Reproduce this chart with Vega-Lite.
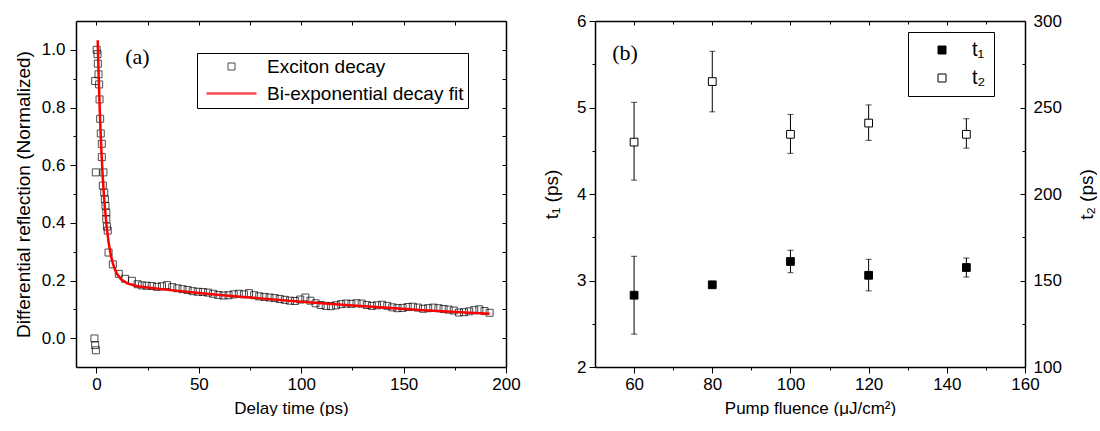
{
  "$schema": "https://vega.github.io/schema/vega-lite/v6.json",
  "padding": {"left": 14, "top": 12, "right": 0, "bottom": 0},
  "background": "white",
  "config": {
    "view": {"stroke": null},
    "font": "Liberation Sans",
    "axis": {
      "grid": false, "domainColor": "black", "domainWidth": 1.5, "tickColor": "black", "tickWidth": 1,
      "labelColor": "black", "titleColor": "black", "labelFont": "Liberation Sans", "titleFont": "Liberation Sans",
      "labelFontSize": 17, "titleFontSize": 17, "titleFontWeight": "normal", "labelFlush": false, "labelOverlap": false,
      "labelPadding": 3, "titlePadding": 8
    }
  },
  "resolve": {
    "scale": {"color": "independent", "fill": "independent", "shape": "independent", "strokeWidth": "independent"},
    "legend": {"color": "independent", "fill": "independent", "shape": "independent", "strokeWidth": "independent"}
  },
  "spacing": 21,
  "datasets": {
    "decay": [
      {"t": -1.0, "r": -0.001}, {"t": -0.65, "r": -0.024}, {"t": -0.3, "r": -0.042}, {"t": -0.3, "r": 0.575},
      {"t": 0.1, "r": 1.0}, {"t": 0.5, "r": 0.985}, {"t": 0.65, "r": 0.952}, {"t": 1.0, "r": 0.915}, {"t": -0.65, "r": 0.892},
      {"t": 1.3, "r": 0.88}, {"t": 1.5, "r": 0.828}, {"t": 1.8, "r": 0.761}, {"t": 2.1, "r": 0.71}, {"t": 2.6, "r": 0.674},
      {"t": 2.6, "r": 0.628}, {"t": 3.4, "r": 0.575}, {"t": 3.1, "r": 0.529}, {"t": 3.8, "r": 0.505}, {"t": 4.1, "r": 0.482},
      {"t": 4.4, "r": 0.459}, {"t": 4.8, "r": 0.436}, {"t": 4.8, "r": 0.413}, {"t": 5.1, "r": 0.387}, {"t": 5.5, "r": 0.373},
      {"t": 5.9, "r": 0.297}, {"t": 8.0, "r": 0.256}, {"t": 10.9, "r": 0.223}, {"t": 14.0, "r": 0.206}, {"t": 17.3, "r": 0.199},
      {"t": 20.1, "r": 0.187}, {"t": 22.2, "r": 0.183}, {"t": 24.5, "r": 0.182}, {"t": 27, "r": 0.181}, {"t": 29.5, "r": 0.178},
      {"t": 32, "r": 0.18}, {"t": 34.5, "r": 0.184}, {"t": 37, "r": 0.177}, {"t": 39.5, "r": 0.173}, {"t": 42, "r": 0.17},
      {"t": 44.5, "r": 0.167}, {"t": 47, "r": 0.163}, {"t": 49.5, "r": 0.161}, {"t": 52, "r": 0.16}, {"t": 54.5, "r": 0.158},
      {"t": 57, "r": 0.154}, {"t": 59.5, "r": 0.15}, {"t": 62, "r": 0.148}, {"t": 64.5, "r": 0.149}, {"t": 67, "r": 0.152},
      {"t": 69.5, "r": 0.154}, {"t": 72, "r": 0.152}, {"t": 74.5, "r": 0.156}, {"t": 77, "r": 0.149}, {"t": 79.5, "r": 0.145},
      {"t": 82, "r": 0.143}, {"t": 84.5, "r": 0.141}, {"t": 87, "r": 0.139}, {"t": 89.5, "r": 0.136}, {"t": 92, "r": 0.133},
      {"t": 94.5, "r": 0.13}, {"t": 97, "r": 0.129}, {"t": 99.5, "r": 0.134}, {"t": 102, "r": 0.141}, {"t": 104.5, "r": 0.13},
      {"t": 107, "r": 0.121}, {"t": 109.5, "r": 0.115}, {"t": 112, "r": 0.112}, {"t": 114.5, "r": 0.111}, {"t": 117, "r": 0.114},
      {"t": 119.5, "r": 0.118}, {"t": 122, "r": 0.12}, {"t": 124.5, "r": 0.119}, {"t": 127, "r": 0.121}, {"t": 129.5, "r": 0.12},
      {"t": 132, "r": 0.115}, {"t": 134.5, "r": 0.112}, {"t": 137, "r": 0.114}, {"t": 139.5, "r": 0.116}, {"t": 142, "r": 0.112},
      {"t": 144.5, "r": 0.107}, {"t": 147, "r": 0.104}, {"t": 149.5, "r": 0.105}, {"t": 152, "r": 0.108}, {"t": 154.5, "r": 0.109},
      {"t": 157, "r": 0.106}, {"t": 159.5, "r": 0.102}, {"t": 162, "r": 0.104}, {"t": 164.5, "r": 0.106}, {"t": 167, "r": 0.104},
      {"t": 169.5, "r": 0.101}, {"t": 172, "r": 0.099}, {"t": 174.5, "r": 0.096}, {"t": 177, "r": 0.089}, {"t": 179.5, "r": 0.09},
      {"t": 182, "r": 0.093}, {"t": 184.5, "r": 0.097}, {"t": 187, "r": 0.1}, {"t": 189.5, "r": 0.094}, {"t": 192, "r": 0.088}
    ],
    "fit": [
      {"t": 0.6, "r": 1.033}, {"t": 1, "r": 0.925}, {"t": 1.5, "r": 0.813}, {"t": 2, "r": 0.717}, {"t": 2.5, "r": 0.636},
      {"t": 3, "r": 0.567}, {"t": 3.5, "r": 0.51}, {"t": 4, "r": 0.461}, {"t": 5, "r": 0.384}, {"t": 6, "r": 0.328},
      {"t": 7, "r": 0.288}, {"t": 8, "r": 0.259}, {"t": 9, "r": 0.239}, {"t": 10, "r": 0.223}, {"t": 12, "r": 0.204},
      {"t": 15, "r": 0.19}, {"t": 20, "r": 0.18}, {"t": 30, "r": 0.171}, {"t": 40, "r": 0.164}, {"t": 50, "r": 0.157},
      {"t": 60, "r": 0.15}, {"t": 80, "r": 0.138}, {"t": 100, "r": 0.126}, {"t": 120, "r": 0.116}, {"t": 140, "r": 0.106},
      {"t": 160, "r": 0.097}, {"t": 180, "r": 0.089}, {"t": 192, "r": 0.085}
    ],
    "tau": [
      {"f": 60, "t1": 2.83, "t1lo": 2.38, "t1hi": 3.28, "t2": 230, "t2lo": 208, "t2hi": 253},
      {"f": 80, "t1": 2.95, "t1lo": 2.92, "t1hi": 2.99, "t2": 265, "t2lo": 247.5, "t2hi": 282.5},
      {"f": 100, "t1": 3.22, "t1lo": 3.09, "t1hi": 3.35, "t2": 234.5, "t2lo": 223.5, "t2hi": 246},
      {"f": 120, "t1": 3.06, "t1lo": 2.88, "t1hi": 3.245, "t2": 241, "t2lo": 231, "t2hi": 251.5},
      {"f": 145, "t1": 3.15, "t1lo": 3.04, "t1hi": 3.26, "t2": 234.5, "t2lo": 226.5, "t2hi": 243.5}
    ]
  },
  "hconcat": [
    {
      "width": 430,
      "height": 346,
      "resolve": {"axis": {"x": "independent", "y": "independent"}},
      "layer": [
        {
          "data": {"name": "decay"},
          "mark": {"type": "point", "opacity": 0},
          "encoding": {
            "x": {"field": "t", "type": "quantitative", "scale": {"domain": [-10, 200], "nice": false, "zero": false},
                  "axis": {"orient": "bottom", "values": [25, 75, 125, 175], "labels": false, "tickSize": 3, "domain": false, "title": null}},
            "y": {"field": "r", "type": "quantitative", "scale": {"domain": [-0.1, 1.1], "nice": false, "zero": false},
                  "axis": {"orient": "left", "values": [0.1, 0.3, 0.5, 0.7, 0.9], "labels": false, "tickSize": 3, "domain": false, "title": null}}
          }
        },
        {
          "data": {"name": "decay"},
          "mark": {"type": "point", "opacity": 0},
          "encoding": {
            "x": {"field": "t", "type": "quantitative",
                  "axis": {"orient": "top", "values": [25, 75, 125, 175], "labels": false, "tickSize": -4, "domain": false, "title": null}},
            "y": {"field": "r", "type": "quantitative",
                  "axis": {"orient": "right", "values": [0, 0.1, 0.2, 0.3, 0.4, 0.5, 0.6, 0.7, 0.8, 0.9, 1.0], "labels": false, "tickSize": -4, "title": null}}
          }
        },
        {
          "data": {"name": "decay"},
          "mark": {"type": "point", "filled": false, "size": 100},
          "encoding": {
            "x": {"field": "t", "type": "quantitative",
                  "axis": {"orient": "bottom", "values": [0, 50, 100, 150, 200], "tickSize": 6, "title": "Delay time (ps)"}},
            "y": {"field": "r", "type": "quantitative",
                  "axis": {"orient": "left", "values": [0, 0.2, 0.4, 0.6, 0.8, 1.0], "format": ".1f", "tickSize": 6, "labelPadding": 5, "titleFontSize": 19, "title": "Differential reflection (Normalized)"}},
            "color": {"datum": "Exciton decay", "type": "nominal",
                      "scale": {"domain": ["Exciton decay", "Bi-exponential decay fit"], "range": ["black", "#ff0000"]},
                      "legend": {"orient": "none", "legendX": 121, "legendY": 32, "title": null, "strokeColor": "black", "fillColor": "white", "padding": 4, "symbolOffset": 21, "labelOffset": 26, "labelFontSize": 19, "labelLimit": 400, "rowPadding": 7, "symbolSize": 100, "labelColor": "black"}},
            "shape": {"datum": "Exciton decay", "type": "nominal",
                      "scale": {"domain": ["Exciton decay", "Bi-exponential decay fit"], "range": ["M-0.7,-0.7H0.7V0.7H-0.7Z", "M-5,0H5"]},
                      "legend": {"orient": "none", "legendX": 121, "legendY": 32, "title": null, "strokeColor": "black", "fillColor": "white", "padding": 4, "symbolOffset": 21, "labelOffset": 26, "labelFontSize": 19, "labelLimit": 400, "rowPadding": 7, "symbolSize": 100, "labelColor": "black"}},
            "strokeWidth": {"datum": "Exciton decay", "type": "nominal",
                      "scale": {"type": "ordinal", "domain": ["Exciton decay", "Bi-exponential decay fit"], "range": [1, 2.5]},
                      "legend": {"orient": "none", "legendX": 121, "legendY": 32, "title": null, "strokeColor": "black", "fillColor": "white", "padding": 4, "symbolOffset": 21, "labelOffset": 26, "labelFontSize": 19, "labelLimit": 400, "rowPadding": 7, "symbolSize": 100, "labelColor": "black"}}
          }
        },
        {
          "data": {"name": "fit"},
          "mark": {"type": "line", "color": "#ff0000", "strokeWidth": 2.5},
          "encoding": {
            "x": {"field": "t", "type": "quantitative",
                  "axis": {"orient": "top", "values": [0, 50, 100, 150, 200], "labels": false, "tickSize": -4, "title": null}},
            "y": {"field": "r", "type": "quantitative", "axis": null}
          }
        },
        {
          "data": {"values": [{}]},
          "mark": {"type": "text", "text": "(a)", "font": "Liberation Serif", "fontSize": 22, "color": "black"},
          "encoding": {
            "x": {"datum": 20, "type": "quantitative", "axis": null},
            "y": {"datum": 0.975, "type": "quantitative", "axis": null}
          }
        }
      ]
    },
    {
      "width": 430,
      "height": 346,
      "data": {"name": "tau"},
      "resolve": {"scale": {"y": "independent"}, "axis": {"x": "independent", "y": "independent"}},
      "layer": [
        {
          "mark": {"type": "rule", "color": "black", "strokeWidth": 1},
          "encoding": {
            "x": {"field": "f", "type": "quantitative", "scale": {"domain": [50, 160], "nice": false, "zero": false},
                  "axis": {"orient": "top", "values": [60, 80, 100, 120, 140, 160], "labels": false, "tickSize": -4, "title": null}},
            "y": {"field": "t1lo", "type": "quantitative", "scale": {"domain": [2, 6], "nice": false, "zero": false},
                  "axis": {"orient": "left", "values": [2.5, 3.5, 4.5, 5.5], "labels": false, "tickSize": 3, "domain": false, "title": null}},
            "y2": {"field": "t1hi"}
          }
        },
        {
          "mark": {"type": "tick", "orient": "horizontal", "color": "black", "size": 6, "thickness": 1},
          "encoding": {
            "x": {"field": "f", "type": "quantitative",
                  "axis": {"orient": "bottom", "values": [70, 90, 110, 130, 150], "labels": false, "tickSize": 3, "domain": false, "title": null}},
            "y": {"field": "t1lo", "type": "quantitative", "scale": {"domain": [2, 6], "nice": false, "zero": false}, "axis": null}
          }
        },
        {
          "mark": {"type": "tick", "orient": "horizontal", "color": "black", "size": 6, "thickness": 1},
          "encoding": {
            "x": {"field": "f", "type": "quantitative",
                  "axis": {"orient": "top", "values": [70, 90, 110, 130, 150], "labels": false, "tickSize": -3, "domain": false, "title": null}},
            "y": {"field": "t1hi", "type": "quantitative", "scale": {"domain": [2, 6], "nice": false, "zero": false}, "axis": null}
          }
        },
        {
          "mark": {"type": "rule", "color": "black", "strokeWidth": 1},
          "encoding": {
            "x": {"field": "f", "type": "quantitative", "axis": null},
            "y": {"field": "t2lo", "type": "quantitative", "scale": {"domain": [100, 300], "nice": false, "zero": false},
                  "axis": {"orient": "right", "values": [125, 175, 225, 275], "labels": false, "tickSize": -3, "domain": false, "title": null}},
            "y2": {"field": "t2hi"}
          }
        },
        {
          "mark": {"type": "tick", "orient": "horizontal", "color": "black", "size": 6, "thickness": 1},
          "encoding": {
            "x": {"field": "f", "type": "quantitative", "axis": null},
            "y": {"field": "t2lo", "type": "quantitative", "scale": {"domain": [100, 300], "nice": false, "zero": false}, "axis": null}
          }
        },
        {
          "mark": {"type": "tick", "orient": "horizontal", "color": "black", "size": 6, "thickness": 1},
          "encoding": {
            "x": {"field": "f", "type": "quantitative", "axis": null},
            "y": {"field": "t2hi", "type": "quantitative", "scale": {"domain": [100, 300], "nice": false, "zero": false}, "axis": null}
          }
        },
        {
          "mark": {"type": "point", "shape": "square", "size": 60, "filled": true, "stroke": "black", "strokeWidth": 1, "opacity": 1},
          "encoding": {
            "x": {"field": "f", "type": "quantitative",
                  "axis": {"orient": "bottom", "values": [60, 80, 100, 120, 140, 160], "tickSize": 6, "title": "Pump fluence (μJ/cm²)"}},
            "y": {"field": "t1", "type": "quantitative", "scale": {"domain": [2, 6], "nice": false, "zero": false},
                  "axis": {"orient": "left", "values": [2, 3, 4, 5, 6], "tickSize": 6, "title": "t₁ (ps)", "titleFontSize": 19, "titlePadding": 15}},
            "fill": {"datum": "t₁", "type": "nominal", "scale": {"domain": ["t₁", "t₂"], "range": ["black", "white"]},
                     "legend": {"orient": "none", "legendX": 313, "legendY": 11, "title": null, "strokeColor": "black", "fillColor": "white", "padding": 8, "symbolOffset": 16, "labelOffset": 20, "labelFontSize": 20, "rowPadding": 8, "symbolSize": 64, "symbolType": "square", "symbolStrokeColor": "black", "symbolStrokeWidth": 1, "labelColor": "black"}}
          }
        },
        {
          "mark": {"type": "point", "shape": "square", "size": 60, "filled": true, "stroke": "black", "strokeWidth": 1, "opacity": 1},
          "encoding": {
            "x": {"field": "f", "type": "quantitative", "axis": null},
            "y": {"field": "t2", "type": "quantitative", "scale": {"domain": [100, 300], "nice": false, "zero": false},
                  "axis": {"orient": "right", "values": [100, 150, 200, 250, 300], "tickSize": -5, "labelPadding": 13, "title": "t₂ (ps)", "titleFontSize": 19, "titleAngle": 270, "titleBaseline": "top", "titlePadding": 16}},
            "fill": {"datum": "t₂", "type": "nominal"}
          }
        },
        {
          "data": {"values": [{}]},
          "mark": {"type": "text", "text": "(b)", "font": "Liberation Serif", "fontSize": 22, "color": "black"},
          "encoding": {
            "x": {"datum": 57.7, "type": "quantitative", "axis": null},
            "y": {"datum": 5.63, "type": "quantitative", "scale": {"domain": [2, 6], "nice": false, "zero": false}, "axis": null}
          }
        }
      ]
    }
  ]
}
